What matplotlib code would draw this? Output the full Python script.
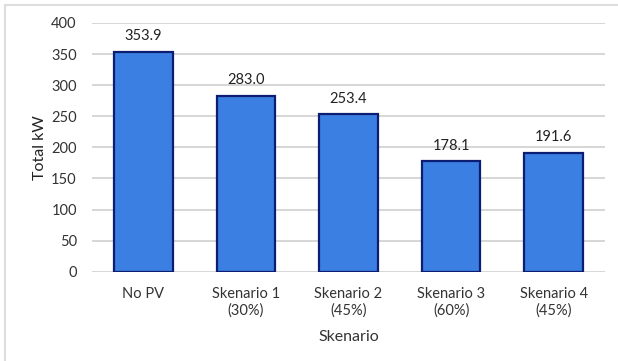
import matplotlib.pyplot as plt
from matplotlib.lines import Line2D

plt.rcParams['font.family'] = ['Lato', 'DejaVu Sans']

categories = ['No PV', 'Skenario 1\n(30%)', 'Skenario 2\n(45%)',
              'Skenario 3\n(60%)', 'Skenario 4\n(45%)']
total_kw = [353.9, 283.0, 253.4, 178.1, 191.6]
y_ticks = [0, 50, 100, 150, 200, 250, 300, 350, 400]

fig = plt.figure(figsize=(6.18, 3.61), dpi=100)
ax = fig.add_axes([0.149, 0.2474, 0.830, 0.689])

x = range(len(categories))
bars = ax.bar(x, total_kw, width=0.57, color='#3b7fe2',
              edgecolor='#0c1d72', linewidth=1.6, zorder=3)
for b, v in zip(bars, total_kw):
    ax.annotate(f'{v:.1f}', (b.get_x() + b.get_width() / 2, v),
                xytext=(0, 6), textcoords='offset points',
                ha='center', va='bottom', fontsize=10.5, color='#222222')

ax.set_xlim(-0.5, len(categories) - 0.5)
ax.set_ylim(0, 400)
ax.set_yticks(y_ticks)
ax.set_xticks(list(x))
ax.set_xticklabels(categories, fontsize=10.5, color='#333333', linespacing=1.2)
ax.tick_params(axis='y', labelsize=10.5, labelcolor='#333333', length=0, pad=11)
ax.tick_params(axis='x', length=0, pad=11)
ax.yaxis.grid(True, color='#d0d0d0', linewidth=1.2, zorder=0)
ax.set_axisbelow(True)
for s in ax.spines.values():
    s.set_visible(False)

ax.set_ylabel('Total kW', fontsize=11.5, color='#222222', labelpad=3)
ax.set_xlabel('Skenario', fontsize=11.5, color='#333333', labelpad=9)

# outer chart frame (top and left edges)
fig.add_artist(Line2D([5 / 618, 1], [1 - 5 / 361, 1 - 5 / 361],
                      transform=fig.transFigure, color='#dedede', linewidth=1.5))
fig.add_artist(Line2D([5 / 618, 5 / 618], [0, 1 - 5 / 361],
                      transform=fig.transFigure, color='#dedede', linewidth=1.5))

fig.savefig('out.png', dpi=100)
